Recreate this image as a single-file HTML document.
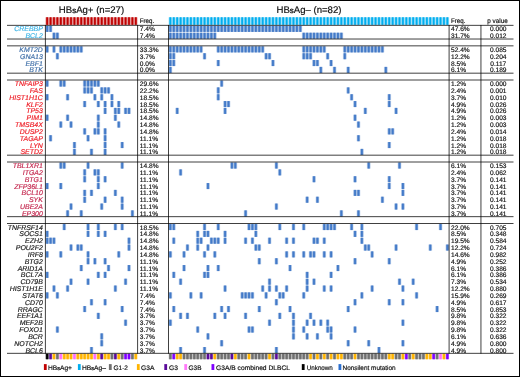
<!DOCTYPE html>
<html lang="en"><head><meta charset="utf-8"><title>Mutation landscape HBsAg+ vs HBsAg-</title>
<style>html,body{margin:0;padding:0;background:#fff}svg{display:block}</style></head>
<body>
<svg width="520" height="377" viewBox="0 0 520 377" font-family="'Liberation Sans', sans-serif" text-rendering="geometricPrecision">
<rect x="0" y="0" width="520" height="377" fill="#fff"/>
<defs><g id="c"><rect x="-0.195" y="0" width="3.8" height="6.0" opacity="0.22"/><rect x="0.305" y="0" width="2.8" height="6.0" opacity="0.45"/><rect x="0.805" y="0" width="1.8" height="6.0" opacity="0.72"/></g><g id="h"><rect x="-0.095" y="0" width="3.6" height="7.5" opacity="0.3"/><rect x="0.505" y="0" width="2.4" height="7.5" opacity="0.5"/><rect x="0.905" y="0" width="1.6" height="7.5" opacity="1"/></g><g id="k"><rect x="-0.045" y="0" width="3.5" height="5.4" opacity="0.3"/><rect x="0.355" y="0" width="2.7" height="5.4" opacity="0.6"/><rect x="0.705" y="0" width="2.0" height="5.4" opacity="1"/></g></defs>
<g fill="#c00000">
<use href="#h" x="45.45" y="17.3"/>
<use href="#h" x="48.86" y="17.3"/>
<use href="#h" x="52.27" y="17.3"/>
<use href="#h" x="55.68" y="17.3"/>
<use href="#h" x="59.09" y="17.3"/>
<use href="#h" x="62.50" y="17.3"/>
<use href="#h" x="65.91" y="17.3"/>
<use href="#h" x="69.32" y="17.3"/>
<use href="#h" x="72.73" y="17.3"/>
<use href="#h" x="76.14" y="17.3"/>
<use href="#h" x="79.55" y="17.3"/>
<use href="#h" x="82.96" y="17.3"/>
<use href="#h" x="86.37" y="17.3"/>
<use href="#h" x="89.78" y="17.3"/>
<use href="#h" x="93.19" y="17.3"/>
<use href="#h" x="96.60" y="17.3"/>
<use href="#h" x="100.01" y="17.3"/>
<use href="#h" x="103.42" y="17.3"/>
<use href="#h" x="106.83" y="17.3"/>
<use href="#h" x="110.24" y="17.3"/>
<use href="#h" x="113.65" y="17.3"/>
<use href="#h" x="117.06" y="17.3"/>
<use href="#h" x="120.47" y="17.3"/>
<use href="#h" x="123.88" y="17.3"/>
<use href="#h" x="127.29" y="17.3"/>
<use href="#h" x="130.70" y="17.3"/>
<use href="#h" x="134.11" y="17.3"/>
</g>
<g fill="#00aeef">
<use href="#h" x="168.65" y="17.3"/>
<use href="#h" x="172.07" y="17.3"/>
<use href="#h" x="175.49" y="17.3"/>
<use href="#h" x="178.91" y="17.3"/>
<use href="#h" x="182.33" y="17.3"/>
<use href="#h" x="185.75" y="17.3"/>
<use href="#h" x="189.17" y="17.3"/>
<use href="#h" x="192.59" y="17.3"/>
<use href="#h" x="196.01" y="17.3"/>
<use href="#h" x="199.43" y="17.3"/>
<use href="#h" x="202.85" y="17.3"/>
<use href="#h" x="206.27" y="17.3"/>
<use href="#h" x="209.69" y="17.3"/>
<use href="#h" x="213.11" y="17.3"/>
<use href="#h" x="216.53" y="17.3"/>
<use href="#h" x="219.95" y="17.3"/>
<use href="#h" x="223.37" y="17.3"/>
<use href="#h" x="226.79" y="17.3"/>
<use href="#h" x="230.21" y="17.3"/>
<use href="#h" x="233.63" y="17.3"/>
<use href="#h" x="237.05" y="17.3"/>
<use href="#h" x="240.47" y="17.3"/>
<use href="#h" x="243.89" y="17.3"/>
<use href="#h" x="247.31" y="17.3"/>
<use href="#h" x="250.73" y="17.3"/>
<use href="#h" x="254.15" y="17.3"/>
<use href="#h" x="257.57" y="17.3"/>
<use href="#h" x="260.99" y="17.3"/>
<use href="#h" x="264.41" y="17.3"/>
<use href="#h" x="267.83" y="17.3"/>
<use href="#h" x="271.25" y="17.3"/>
<use href="#h" x="274.67" y="17.3"/>
<use href="#h" x="278.09" y="17.3"/>
<use href="#h" x="281.51" y="17.3"/>
<use href="#h" x="284.93" y="17.3"/>
<use href="#h" x="288.35" y="17.3"/>
<use href="#h" x="291.77" y="17.3"/>
<use href="#h" x="295.19" y="17.3"/>
<use href="#h" x="298.61" y="17.3"/>
<use href="#h" x="302.03" y="17.3"/>
<use href="#h" x="305.45" y="17.3"/>
<use href="#h" x="308.87" y="17.3"/>
<use href="#h" x="312.29" y="17.3"/>
<use href="#h" x="315.71" y="17.3"/>
<use href="#h" x="319.13" y="17.3"/>
<use href="#h" x="322.55" y="17.3"/>
<use href="#h" x="325.97" y="17.3"/>
<use href="#h" x="329.39" y="17.3"/>
<use href="#h" x="332.81" y="17.3"/>
<use href="#h" x="336.23" y="17.3"/>
<use href="#h" x="339.65" y="17.3"/>
<use href="#h" x="343.07" y="17.3"/>
<use href="#h" x="346.49" y="17.3"/>
<use href="#h" x="349.91" y="17.3"/>
<use href="#h" x="353.33" y="17.3"/>
<use href="#h" x="356.75" y="17.3"/>
<use href="#h" x="360.17" y="17.3"/>
<use href="#h" x="363.59" y="17.3"/>
<use href="#h" x="367.01" y="17.3"/>
<use href="#h" x="370.43" y="17.3"/>
<use href="#h" x="373.85" y="17.3"/>
<use href="#h" x="377.27" y="17.3"/>
<use href="#h" x="380.69" y="17.3"/>
<use href="#h" x="384.11" y="17.3"/>
<use href="#h" x="387.53" y="17.3"/>
<use href="#h" x="390.95" y="17.3"/>
<use href="#h" x="394.37" y="17.3"/>
<use href="#h" x="397.79" y="17.3"/>
<use href="#h" x="401.21" y="17.3"/>
<use href="#h" x="404.63" y="17.3"/>
<use href="#h" x="408.05" y="17.3"/>
<use href="#h" x="411.47" y="17.3"/>
<use href="#h" x="414.89" y="17.3"/>
<use href="#h" x="418.31" y="17.3"/>
<use href="#h" x="421.73" y="17.3"/>
<use href="#h" x="425.15" y="17.3"/>
<use href="#h" x="428.57" y="17.3"/>
<use href="#h" x="431.99" y="17.3"/>
<use href="#h" x="435.41" y="17.3"/>
<use href="#h" x="438.83" y="17.3"/>
<use href="#h" x="442.25" y="17.3"/>
<use href="#h" x="445.67" y="17.3"/>
</g>
<g fill="#2a68c0">
<use href="#c" x="45.45" y="25.90"/>
<use href="#c" x="48.86" y="25.90"/>
<use href="#c" x="168.65" y="25.90"/>
<use href="#c" x="172.07" y="25.90"/>
<use href="#c" x="175.49" y="25.90"/>
<use href="#c" x="178.91" y="25.90"/>
<use href="#c" x="182.33" y="25.90"/>
<use href="#c" x="185.75" y="25.90"/>
<use href="#c" x="189.17" y="25.90"/>
<use href="#c" x="192.59" y="25.90"/>
<use href="#c" x="196.01" y="25.90"/>
<use href="#c" x="199.43" y="25.90"/>
<use href="#c" x="202.85" y="25.90"/>
<use href="#c" x="206.27" y="25.90"/>
<use href="#c" x="209.69" y="25.90"/>
<use href="#c" x="213.11" y="25.90"/>
<use href="#c" x="216.53" y="25.90"/>
<use href="#c" x="219.95" y="25.90"/>
<use href="#c" x="223.37" y="25.90"/>
<use href="#c" x="226.79" y="25.90"/>
<use href="#c" x="230.21" y="25.90"/>
<use href="#c" x="233.63" y="25.90"/>
<use href="#c" x="237.05" y="25.90"/>
<use href="#c" x="240.47" y="25.90"/>
<use href="#c" x="243.89" y="25.90"/>
<use href="#c" x="247.31" y="25.90"/>
<use href="#c" x="250.73" y="25.90"/>
<use href="#c" x="254.15" y="25.90"/>
<use href="#c" x="257.57" y="25.90"/>
<use href="#c" x="260.99" y="25.90"/>
<use href="#c" x="264.41" y="25.90"/>
<use href="#c" x="267.83" y="25.90"/>
<use href="#c" x="271.25" y="25.90"/>
<use href="#c" x="274.67" y="25.90"/>
<use href="#c" x="278.09" y="25.90"/>
<use href="#c" x="281.51" y="25.90"/>
<use href="#c" x="284.93" y="25.90"/>
<use href="#c" x="288.35" y="25.90"/>
<use href="#c" x="291.77" y="25.90"/>
<use href="#c" x="295.19" y="25.90"/>
<use href="#c" x="298.61" y="25.90"/>
<use href="#c" x="52.27" y="32.73"/>
<use href="#c" x="55.68" y="32.73"/>
<use href="#c" x="168.65" y="32.73"/>
<use href="#c" x="172.07" y="32.73"/>
<use href="#c" x="175.49" y="32.73"/>
<use href="#c" x="178.91" y="32.73"/>
<use href="#c" x="182.33" y="32.73"/>
<use href="#c" x="185.75" y="32.73"/>
<use href="#c" x="189.17" y="32.73"/>
<use href="#c" x="192.59" y="32.73"/>
<use href="#c" x="196.01" y="32.73"/>
<use href="#c" x="199.43" y="32.73"/>
<use href="#c" x="202.85" y="32.73"/>
<use href="#c" x="206.27" y="32.73"/>
<use href="#c" x="209.69" y="32.73"/>
<use href="#c" x="213.11" y="32.73"/>
<use href="#c" x="302.03" y="32.73"/>
<use href="#c" x="305.45" y="32.73"/>
<use href="#c" x="308.87" y="32.73"/>
<use href="#c" x="312.29" y="32.73"/>
<use href="#c" x="315.71" y="32.73"/>
<use href="#c" x="319.13" y="32.73"/>
<use href="#c" x="322.55" y="32.73"/>
<use href="#c" x="325.97" y="32.73"/>
<use href="#c" x="329.39" y="32.73"/>
<use href="#c" x="332.81" y="32.73"/>
<use href="#c" x="336.23" y="32.73"/>
<use href="#c" x="339.65" y="32.73"/>
<use href="#c" x="45.45" y="46.40"/>
<use href="#c" x="52.27" y="46.40"/>
<use href="#c" x="59.09" y="46.40"/>
<use href="#c" x="62.50" y="46.40"/>
<use href="#c" x="65.91" y="46.40"/>
<use href="#c" x="69.32" y="46.40"/>
<use href="#c" x="72.73" y="46.40"/>
<use href="#c" x="76.14" y="46.40"/>
<use href="#c" x="79.55" y="46.40"/>
<use href="#c" x="168.65" y="46.40"/>
<use href="#c" x="172.07" y="46.40"/>
<use href="#c" x="175.49" y="46.40"/>
<use href="#c" x="178.91" y="46.40"/>
<use href="#c" x="182.33" y="46.40"/>
<use href="#c" x="185.75" y="46.40"/>
<use href="#c" x="189.17" y="46.40"/>
<use href="#c" x="192.59" y="46.40"/>
<use href="#c" x="196.01" y="46.40"/>
<use href="#c" x="199.43" y="46.40"/>
<use href="#c" x="216.53" y="46.40"/>
<use href="#c" x="219.95" y="46.40"/>
<use href="#c" x="223.37" y="46.40"/>
<use href="#c" x="226.79" y="46.40"/>
<use href="#c" x="230.21" y="46.40"/>
<use href="#c" x="233.63" y="46.40"/>
<use href="#c" x="237.05" y="46.40"/>
<use href="#c" x="240.47" y="46.40"/>
<use href="#c" x="243.89" y="46.40"/>
<use href="#c" x="247.31" y="46.40"/>
<use href="#c" x="250.73" y="46.40"/>
<use href="#c" x="254.15" y="46.40"/>
<use href="#c" x="257.57" y="46.40"/>
<use href="#c" x="260.99" y="46.40"/>
<use href="#c" x="302.03" y="46.40"/>
<use href="#c" x="305.45" y="46.40"/>
<use href="#c" x="308.87" y="46.40"/>
<use href="#c" x="312.29" y="46.40"/>
<use href="#c" x="315.71" y="46.40"/>
<use href="#c" x="319.13" y="46.40"/>
<use href="#c" x="322.55" y="46.40"/>
<use href="#c" x="343.07" y="46.40"/>
<use href="#c" x="346.49" y="46.40"/>
<use href="#c" x="349.91" y="46.40"/>
<use href="#c" x="353.33" y="46.40"/>
<use href="#c" x="356.75" y="46.40"/>
<use href="#c" x="360.17" y="46.40"/>
<use href="#c" x="363.59" y="46.40"/>
<use href="#c" x="367.01" y="46.40"/>
<use href="#c" x="370.43" y="46.40"/>
<use href="#c" x="373.85" y="46.40"/>
<use href="#c" x="377.27" y="46.40"/>
<use href="#c" x="380.69" y="46.40"/>
<use href="#c" x="55.68" y="53.23"/>
<use href="#c" x="168.65" y="53.23"/>
<use href="#c" x="172.07" y="53.23"/>
<use href="#c" x="202.85" y="53.23"/>
<use href="#c" x="264.41" y="53.23"/>
<use href="#c" x="267.83" y="53.23"/>
<use href="#c" x="302.03" y="53.23"/>
<use href="#c" x="305.45" y="53.23"/>
<use href="#c" x="308.87" y="53.23"/>
<use href="#c" x="325.97" y="53.23"/>
<use href="#c" x="343.07" y="53.23"/>
<use href="#c" x="168.65" y="60.06"/>
<use href="#c" x="172.07" y="60.06"/>
<use href="#c" x="216.53" y="60.06"/>
<use href="#c" x="271.25" y="60.06"/>
<use href="#c" x="312.29" y="60.06"/>
<use href="#c" x="315.71" y="60.06"/>
<use href="#c" x="329.39" y="60.06"/>
<use href="#c" x="168.65" y="66.90"/>
<use href="#c" x="319.13" y="66.90"/>
<use href="#c" x="332.81" y="66.90"/>
<use href="#c" x="346.49" y="66.90"/>
<use href="#c" x="384.11" y="66.90"/>
<use href="#c" x="45.45" y="80.56"/>
<use href="#c" x="59.09" y="80.56"/>
<use href="#c" x="62.50" y="80.56"/>
<use href="#c" x="82.96" y="80.56"/>
<use href="#c" x="86.37" y="80.56"/>
<use href="#c" x="89.78" y="80.56"/>
<use href="#c" x="93.19" y="80.56"/>
<use href="#c" x="96.60" y="80.56"/>
<use href="#c" x="219.95" y="80.56"/>
<use href="#c" x="82.96" y="87.40"/>
<use href="#c" x="86.37" y="87.40"/>
<use href="#c" x="89.78" y="87.40"/>
<use href="#c" x="100.01" y="87.40"/>
<use href="#c" x="103.42" y="87.40"/>
<use href="#c" x="106.83" y="87.40"/>
<use href="#c" x="216.53" y="87.40"/>
<use href="#c" x="346.49" y="87.40"/>
<use href="#c" x="45.45" y="94.23"/>
<use href="#c" x="65.91" y="94.23"/>
<use href="#c" x="93.19" y="94.23"/>
<use href="#c" x="100.01" y="94.23"/>
<use href="#c" x="110.24" y="94.23"/>
<use href="#c" x="216.53" y="94.23"/>
<use href="#c" x="349.91" y="94.23"/>
<use href="#c" x="387.53" y="94.23"/>
<use href="#c" x="82.96" y="101.06"/>
<use href="#c" x="96.60" y="101.06"/>
<use href="#c" x="103.42" y="101.06"/>
<use href="#c" x="110.24" y="101.06"/>
<use href="#c" x="117.06" y="101.06"/>
<use href="#c" x="223.37" y="101.06"/>
<use href="#c" x="226.79" y="101.06"/>
<use href="#c" x="353.33" y="101.06"/>
<use href="#c" x="387.53" y="101.06"/>
<use href="#c" x="103.42" y="107.90"/>
<use href="#c" x="113.65" y="107.90"/>
<use href="#c" x="117.06" y="107.90"/>
<use href="#c" x="123.88" y="107.90"/>
<use href="#c" x="127.29" y="107.90"/>
<use href="#c" x="175.49" y="107.90"/>
<use href="#c" x="223.37" y="107.90"/>
<use href="#c" x="363.59" y="107.90"/>
<use href="#c" x="394.37" y="107.90"/>
<use href="#c" x="45.45" y="114.73"/>
<use href="#c" x="65.91" y="114.73"/>
<use href="#c" x="96.60" y="114.73"/>
<use href="#c" x="113.65" y="114.73"/>
<use href="#c" x="353.33" y="114.73"/>
<use href="#c" x="59.09" y="121.56"/>
<use href="#c" x="69.32" y="121.56"/>
<use href="#c" x="96.60" y="121.56"/>
<use href="#c" x="117.06" y="121.56"/>
<use href="#c" x="356.75" y="121.56"/>
<use href="#c" x="82.96" y="128.40"/>
<use href="#c" x="93.19" y="128.40"/>
<use href="#c" x="96.60" y="128.40"/>
<use href="#c" x="103.42" y="128.40"/>
<use href="#c" x="387.53" y="128.40"/>
<use href="#c" x="390.95" y="128.40"/>
<use href="#c" x="48.86" y="135.23"/>
<use href="#c" x="86.37" y="135.23"/>
<use href="#c" x="103.42" y="135.23"/>
<use href="#c" x="356.75" y="135.23"/>
<use href="#c" x="72.73" y="142.06"/>
<use href="#c" x="103.42" y="142.06"/>
<use href="#c" x="120.47" y="142.06"/>
<use href="#c" x="387.53" y="142.06"/>
<use href="#c" x="72.73" y="148.89"/>
<use href="#c" x="89.78" y="148.89"/>
<use href="#c" x="103.42" y="148.89"/>
<use href="#c" x="360.17" y="148.89"/>
<use href="#c" x="59.09" y="162.56"/>
<use href="#c" x="62.50" y="162.56"/>
<use href="#c" x="86.37" y="162.56"/>
<use href="#c" x="120.47" y="162.56"/>
<use href="#c" x="230.21" y="162.56"/>
<use href="#c" x="233.63" y="162.56"/>
<use href="#c" x="274.67" y="162.56"/>
<use href="#c" x="367.01" y="162.56"/>
<use href="#c" x="397.79" y="162.56"/>
<use href="#c" x="82.96" y="169.39"/>
<use href="#c" x="93.19" y="169.39"/>
<use href="#c" x="96.60" y="169.39"/>
<use href="#c" x="178.91" y="169.39"/>
<use href="#c" x="278.09" y="169.39"/>
<use href="#c" x="82.96" y="176.23"/>
<use href="#c" x="96.60" y="176.23"/>
<use href="#c" x="103.42" y="176.23"/>
<use href="#c" x="312.29" y="176.23"/>
<use href="#c" x="353.33" y="176.23"/>
<use href="#c" x="387.53" y="176.23"/>
<use href="#c" x="45.45" y="183.06"/>
<use href="#c" x="59.09" y="183.06"/>
<use href="#c" x="96.60" y="183.06"/>
<use href="#c" x="206.27" y="183.06"/>
<use href="#c" x="387.53" y="183.06"/>
<use href="#c" x="401.21" y="183.06"/>
<use href="#c" x="82.96" y="189.89"/>
<use href="#c" x="89.78" y="189.89"/>
<use href="#c" x="113.65" y="189.89"/>
<use href="#c" x="353.33" y="189.89"/>
<use href="#c" x="356.75" y="189.89"/>
<use href="#c" x="401.21" y="189.89"/>
<use href="#c" x="82.96" y="196.73"/>
<use href="#c" x="103.42" y="196.73"/>
<use href="#c" x="120.47" y="196.73"/>
<use href="#c" x="305.45" y="196.73"/>
<use href="#c" x="315.71" y="196.73"/>
<use href="#c" x="380.69" y="196.73"/>
<use href="#c" x="69.32" y="203.56"/>
<use href="#c" x="100.01" y="203.56"/>
<use href="#c" x="120.47" y="203.56"/>
<use href="#c" x="274.67" y="203.56"/>
<use href="#c" x="394.37" y="203.56"/>
<use href="#c" x="401.21" y="203.56"/>
<use href="#c" x="65.91" y="210.39"/>
<use href="#c" x="79.55" y="210.39"/>
<use href="#c" x="130.70" y="210.39"/>
<use href="#c" x="243.89" y="210.39"/>
<use href="#c" x="339.65" y="210.39"/>
<use href="#c" x="356.75" y="210.39"/>
<use href="#c" x="62.50" y="224.06"/>
<use href="#c" x="86.37" y="224.06"/>
<use href="#c" x="96.60" y="224.06"/>
<use href="#c" x="113.65" y="224.06"/>
<use href="#c" x="120.47" y="224.06"/>
<use href="#c" x="168.65" y="224.06"/>
<use href="#c" x="172.07" y="224.06"/>
<use href="#c" x="202.85" y="224.06"/>
<use href="#c" x="216.53" y="224.06"/>
<use href="#c" x="247.31" y="224.06"/>
<use href="#c" x="250.73" y="224.06"/>
<use href="#c" x="254.15" y="224.06"/>
<use href="#c" x="278.09" y="224.06"/>
<use href="#c" x="291.77" y="224.06"/>
<use href="#c" x="302.03" y="224.06"/>
<use href="#c" x="322.55" y="224.06"/>
<use href="#c" x="325.97" y="224.06"/>
<use href="#c" x="329.39" y="224.06"/>
<use href="#c" x="332.81" y="224.06"/>
<use href="#c" x="349.91" y="224.06"/>
<use href="#c" x="360.17" y="224.06"/>
<use href="#c" x="414.89" y="224.06"/>
<use href="#c" x="438.83" y="224.06"/>
<use href="#c" x="45.45" y="230.89"/>
<use href="#c" x="86.37" y="230.89"/>
<use href="#c" x="96.60" y="230.89"/>
<use href="#c" x="103.42" y="230.89"/>
<use href="#c" x="196.01" y="230.89"/>
<use href="#c" x="202.85" y="230.89"/>
<use href="#c" x="206.27" y="230.89"/>
<use href="#c" x="223.37" y="230.89"/>
<use href="#c" x="254.15" y="230.89"/>
<use href="#c" x="353.33" y="230.89"/>
<use href="#c" x="360.17" y="230.89"/>
<use href="#c" x="45.45" y="237.72"/>
<use href="#c" x="48.86" y="237.72"/>
<use href="#c" x="52.27" y="237.72"/>
<use href="#c" x="127.29" y="237.72"/>
<use href="#c" x="172.07" y="237.72"/>
<use href="#c" x="196.01" y="237.72"/>
<use href="#c" x="199.43" y="237.72"/>
<use href="#c" x="209.69" y="237.72"/>
<use href="#c" x="213.11" y="237.72"/>
<use href="#c" x="216.53" y="237.72"/>
<use href="#c" x="223.37" y="237.72"/>
<use href="#c" x="243.89" y="237.72"/>
<use href="#c" x="250.73" y="237.72"/>
<use href="#c" x="267.83" y="237.72"/>
<use href="#c" x="284.93" y="237.72"/>
<use href="#c" x="291.77" y="237.72"/>
<use href="#c" x="312.29" y="237.72"/>
<use href="#c" x="315.71" y="237.72"/>
<use href="#c" x="322.55" y="237.72"/>
<use href="#c" x="360.17" y="237.72"/>
<use href="#c" x="69.32" y="244.56"/>
<use href="#c" x="76.14" y="244.56"/>
<use href="#c" x="79.55" y="244.56"/>
<use href="#c" x="127.29" y="244.56"/>
<use href="#c" x="185.75" y="244.56"/>
<use href="#c" x="196.01" y="244.56"/>
<use href="#c" x="206.27" y="244.56"/>
<use href="#c" x="254.15" y="244.56"/>
<use href="#c" x="257.57" y="244.56"/>
<use href="#c" x="363.59" y="244.56"/>
<use href="#c" x="367.01" y="244.56"/>
<use href="#c" x="394.37" y="244.56"/>
<use href="#c" x="428.57" y="244.56"/>
<use href="#c" x="445.67" y="244.56"/>
<use href="#c" x="45.45" y="251.39"/>
<use href="#c" x="59.09" y="251.39"/>
<use href="#c" x="86.37" y="251.39"/>
<use href="#c" x="117.06" y="251.39"/>
<use href="#c" x="168.65" y="251.39"/>
<use href="#c" x="182.33" y="251.39"/>
<use href="#c" x="202.85" y="251.39"/>
<use href="#c" x="213.11" y="251.39"/>
<use href="#c" x="284.93" y="251.39"/>
<use href="#c" x="291.77" y="251.39"/>
<use href="#c" x="302.03" y="251.39"/>
<use href="#c" x="308.87" y="251.39"/>
<use href="#c" x="312.29" y="251.39"/>
<use href="#c" x="322.55" y="251.39"/>
<use href="#c" x="329.39" y="251.39"/>
<use href="#c" x="370.43" y="251.39"/>
<use href="#c" x="86.37" y="258.22"/>
<use href="#c" x="93.19" y="258.22"/>
<use href="#c" x="103.42" y="258.22"/>
<use href="#c" x="257.57" y="258.22"/>
<use href="#c" x="274.67" y="258.22"/>
<use href="#c" x="353.33" y="258.22"/>
<use href="#c" x="387.53" y="258.22"/>
<use href="#c" x="79.55" y="265.06"/>
<use href="#c" x="106.83" y="265.06"/>
<use href="#c" x="127.29" y="265.06"/>
<use href="#c" x="182.33" y="265.06"/>
<use href="#c" x="206.27" y="265.06"/>
<use href="#c" x="216.53" y="265.06"/>
<use href="#c" x="288.35" y="265.06"/>
<use href="#c" x="336.23" y="265.06"/>
<use href="#c" x="45.45" y="271.89"/>
<use href="#c" x="96.60" y="271.89"/>
<use href="#c" x="103.42" y="271.89"/>
<use href="#c" x="172.07" y="271.89"/>
<use href="#c" x="202.85" y="271.89"/>
<use href="#c" x="206.27" y="271.89"/>
<use href="#c" x="305.45" y="271.89"/>
<use href="#c" x="329.39" y="271.89"/>
<use href="#c" x="69.32" y="278.72"/>
<use href="#c" x="86.37" y="278.72"/>
<use href="#c" x="123.88" y="278.72"/>
<use href="#c" x="178.91" y="278.72"/>
<use href="#c" x="267.83" y="278.72"/>
<use href="#c" x="305.45" y="278.72"/>
<use href="#c" x="312.29" y="278.72"/>
<use href="#c" x="397.79" y="278.72"/>
<use href="#c" x="411.47" y="278.72"/>
<use href="#c" x="52.27" y="285.55"/>
<use href="#c" x="65.91" y="285.55"/>
<use href="#c" x="113.65" y="285.55"/>
<use href="#c" x="223.37" y="285.55"/>
<use href="#c" x="260.99" y="285.55"/>
<use href="#c" x="267.83" y="285.55"/>
<use href="#c" x="274.67" y="285.55"/>
<use href="#c" x="284.93" y="285.55"/>
<use href="#c" x="305.45" y="285.55"/>
<use href="#c" x="322.55" y="285.55"/>
<use href="#c" x="329.39" y="285.55"/>
<use href="#c" x="370.43" y="285.55"/>
<use href="#c" x="401.21" y="285.55"/>
<use href="#c" x="45.45" y="292.39"/>
<use href="#c" x="55.68" y="292.39"/>
<use href="#c" x="168.65" y="292.39"/>
<use href="#c" x="189.17" y="292.39"/>
<use href="#c" x="199.43" y="292.39"/>
<use href="#c" x="240.47" y="292.39"/>
<use href="#c" x="243.89" y="292.39"/>
<use href="#c" x="247.31" y="292.39"/>
<use href="#c" x="250.73" y="292.39"/>
<use href="#c" x="264.41" y="292.39"/>
<use href="#c" x="278.09" y="292.39"/>
<use href="#c" x="281.51" y="292.39"/>
<use href="#c" x="302.03" y="292.39"/>
<use href="#c" x="360.17" y="292.39"/>
<use href="#c" x="414.89" y="292.39"/>
<use href="#c" x="89.78" y="299.22"/>
<use href="#c" x="103.42" y="299.22"/>
<use href="#c" x="274.67" y="299.22"/>
<use href="#c" x="353.33" y="299.22"/>
<use href="#c" x="387.53" y="299.22"/>
<use href="#c" x="401.21" y="299.22"/>
<use href="#c" x="82.96" y="306.05"/>
<use href="#c" x="120.47" y="306.05"/>
<use href="#c" x="172.07" y="306.05"/>
<use href="#c" x="219.95" y="306.05"/>
<use href="#c" x="226.79" y="306.05"/>
<use href="#c" x="257.57" y="306.05"/>
<use href="#c" x="288.35" y="306.05"/>
<use href="#c" x="346.49" y="306.05"/>
<use href="#c" x="435.41" y="306.05"/>
<use href="#c" x="96.60" y="312.89"/>
<use href="#c" x="178.91" y="312.89"/>
<use href="#c" x="185.75" y="312.89"/>
<use href="#c" x="213.11" y="312.89"/>
<use href="#c" x="223.37" y="312.89"/>
<use href="#c" x="243.89" y="312.89"/>
<use href="#c" x="278.09" y="312.89"/>
<use href="#c" x="291.77" y="312.89"/>
<use href="#c" x="308.87" y="312.89"/>
<use href="#c" x="123.88" y="319.72"/>
<use href="#c" x="168.65" y="319.72"/>
<use href="#c" x="267.83" y="319.72"/>
<use href="#c" x="291.77" y="319.72"/>
<use href="#c" x="305.45" y="319.72"/>
<use href="#c" x="312.29" y="319.72"/>
<use href="#c" x="319.13" y="319.72"/>
<use href="#c" x="325.97" y="319.72"/>
<use href="#c" x="401.21" y="319.72"/>
<use href="#c" x="55.68" y="326.55"/>
<use href="#c" x="196.01" y="326.55"/>
<use href="#c" x="247.31" y="326.55"/>
<use href="#c" x="250.73" y="326.55"/>
<use href="#c" x="291.77" y="326.55"/>
<use href="#c" x="302.03" y="326.55"/>
<use href="#c" x="325.97" y="326.55"/>
<use href="#c" x="329.39" y="326.55"/>
<use href="#c" x="353.33" y="326.55"/>
<use href="#c" x="100.01" y="333.39"/>
<use href="#c" x="206.27" y="333.39"/>
<use href="#c" x="291.77" y="333.39"/>
<use href="#c" x="305.45" y="333.39"/>
<use href="#c" x="315.71" y="333.39"/>
<use href="#c" x="329.39" y="333.39"/>
<use href="#c" x="100.01" y="340.22"/>
<use href="#c" x="219.95" y="340.22"/>
<use href="#c" x="346.49" y="340.22"/>
<use href="#c" x="367.01" y="340.22"/>
<use href="#c" x="401.21" y="340.22"/>
<use href="#c" x="89.78" y="347.05"/>
<use href="#c" x="178.91" y="347.05"/>
<use href="#c" x="202.85" y="347.05"/>
<use href="#c" x="274.67" y="347.05"/>
<use href="#c" x="377.27" y="347.05"/>
</g>
<use href="#k" x="45.45" y="353.8" fill="#000"/>
<use href="#k" x="48.86" y="353.8" fill="#5a0a9a"/>
<use href="#k" x="52.27" y="353.8" fill="#ffb400"/>
<use href="#k" x="55.68" y="353.8" fill="#707070"/>
<use href="#k" x="59.09" y="353.8" fill="#ff6cfa"/>
<use href="#k" x="62.50" y="353.8" fill="#ffb400"/>
<use href="#k" x="65.91" y="353.8" fill="#ffb400"/>
<use href="#k" x="69.32" y="353.8" fill="#ffb400"/>
<use href="#k" x="72.73" y="353.8" fill="#ff6cfa"/>
<use href="#k" x="76.14" y="353.8" fill="#ffb400"/>
<use href="#k" x="79.55" y="353.8" fill="#ffb400"/>
<use href="#k" x="82.96" y="353.8" fill="#ffb400"/>
<use href="#k" x="86.37" y="353.8" fill="#ffb400"/>
<use href="#k" x="89.78" y="353.8" fill="#ffb400"/>
<use href="#k" x="93.19" y="353.8" fill="#ff6cfa"/>
<use href="#k" x="96.60" y="353.8" fill="#ffb400"/>
<use href="#k" x="100.01" y="353.8" fill="#5a0a9a"/>
<use href="#k" x="103.42" y="353.8" fill="#ffb400"/>
<use href="#k" x="106.83" y="353.8" fill="#ffb400"/>
<use href="#k" x="110.24" y="353.8" fill="#707070"/>
<use href="#k" x="113.65" y="353.8" fill="#5a0a9a"/>
<use href="#k" x="117.06" y="353.8" fill="#ffb400"/>
<use href="#k" x="120.47" y="353.8" fill="#707070"/>
<use href="#k" x="123.88" y="353.8" fill="#8000ff"/>
<use href="#k" x="127.29" y="353.8" fill="#8000ff"/>
<use href="#k" x="130.70" y="353.8" fill="#707070"/>
<use href="#k" x="134.11" y="353.8" fill="#ffb400"/>
<use href="#k" x="168.65" y="353.8" fill="#707070"/>
<use href="#k" x="172.07" y="353.8" fill="#8000ff"/>
<use href="#k" x="175.49" y="353.8" fill="#ffb400"/>
<use href="#k" x="178.91" y="353.8" fill="#ffb400"/>
<use href="#k" x="182.33" y="353.8" fill="#707070"/>
<use href="#k" x="185.75" y="353.8" fill="#707070"/>
<use href="#k" x="189.17" y="353.8" fill="#707070"/>
<use href="#k" x="192.59" y="353.8" fill="#707070"/>
<use href="#k" x="196.01" y="353.8" fill="#707070"/>
<use href="#k" x="199.43" y="353.8" fill="#707070"/>
<use href="#k" x="202.85" y="353.8" fill="#707070"/>
<use href="#k" x="206.27" y="353.8" fill="#5a0a9a"/>
<use href="#k" x="209.69" y="353.8" fill="#5a0a9a"/>
<use href="#k" x="213.11" y="353.8" fill="#ffb400"/>
<use href="#k" x="216.53" y="353.8" fill="#707070"/>
<use href="#k" x="219.95" y="353.8" fill="#707070"/>
<use href="#k" x="223.37" y="353.8" fill="#707070"/>
<use href="#k" x="226.79" y="353.8" fill="#707070"/>
<use href="#k" x="230.21" y="353.8" fill="#5a0a9a"/>
<use href="#k" x="233.63" y="353.8" fill="#ffb400"/>
<use href="#k" x="237.05" y="353.8" fill="#707070"/>
<use href="#k" x="240.47" y="353.8" fill="#707070"/>
<use href="#k" x="243.89" y="353.8" fill="#707070"/>
<use href="#k" x="247.31" y="353.8" fill="#ffb400"/>
<use href="#k" x="250.73" y="353.8" fill="#707070"/>
<use href="#k" x="254.15" y="353.8" fill="#707070"/>
<use href="#k" x="257.57" y="353.8" fill="#707070"/>
<use href="#k" x="260.99" y="353.8" fill="#707070"/>
<use href="#k" x="264.41" y="353.8" fill="#707070"/>
<use href="#k" x="267.83" y="353.8" fill="#ffb400"/>
<use href="#k" x="271.25" y="353.8" fill="#707070"/>
<use href="#k" x="274.67" y="353.8" fill="#5a0a9a"/>
<use href="#k" x="278.09" y="353.8" fill="#707070"/>
<use href="#k" x="281.51" y="353.8" fill="#707070"/>
<use href="#k" x="284.93" y="353.8" fill="#707070"/>
<use href="#k" x="288.35" y="353.8" fill="#707070"/>
<use href="#k" x="291.77" y="353.8" fill="#707070"/>
<use href="#k" x="295.19" y="353.8" fill="#707070"/>
<use href="#k" x="298.61" y="353.8" fill="#707070"/>
<use href="#k" x="302.03" y="353.8" fill="#707070"/>
<use href="#k" x="305.45" y="353.8" fill="#707070"/>
<use href="#k" x="308.87" y="353.8" fill="#ffb400"/>
<use href="#k" x="312.29" y="353.8" fill="#707070"/>
<use href="#k" x="315.71" y="353.8" fill="#ffb400"/>
<use href="#k" x="319.13" y="353.8" fill="#707070"/>
<use href="#k" x="322.55" y="353.8" fill="#ffb400"/>
<use href="#k" x="325.97" y="353.8" fill="#707070"/>
<use href="#k" x="329.39" y="353.8" fill="#ffb400"/>
<use href="#k" x="332.81" y="353.8" fill="#707070"/>
<use href="#k" x="336.23" y="353.8" fill="#ffb400"/>
<use href="#k" x="339.65" y="353.8" fill="#ffb400"/>
<use href="#k" x="343.07" y="353.8" fill="#707070"/>
<use href="#k" x="346.49" y="353.8" fill="#707070"/>
<use href="#k" x="349.91" y="353.8" fill="#707070"/>
<use href="#k" x="353.33" y="353.8" fill="#ffb400"/>
<use href="#k" x="356.75" y="353.8" fill="#707070"/>
<use href="#k" x="360.17" y="353.8" fill="#707070"/>
<use href="#k" x="363.59" y="353.8" fill="#707070"/>
<use href="#k" x="367.01" y="353.8" fill="#707070"/>
<use href="#k" x="370.43" y="353.8" fill="#707070"/>
<use href="#k" x="373.85" y="353.8" fill="#707070"/>
<use href="#k" x="377.27" y="353.8" fill="#707070"/>
<use href="#k" x="380.69" y="353.8" fill="#707070"/>
<use href="#k" x="384.11" y="353.8" fill="#707070"/>
<use href="#k" x="387.53" y="353.8" fill="#ffb400"/>
<use href="#k" x="390.95" y="353.8" fill="#ffb400"/>
<use href="#k" x="394.37" y="353.8" fill="#707070"/>
<use href="#k" x="397.79" y="353.8" fill="#707070"/>
<use href="#k" x="401.21" y="353.8" fill="#ffb400"/>
<use href="#k" x="404.63" y="353.8" fill="#8000ff"/>
<use href="#k" x="408.05" y="353.8" fill="#707070"/>
<use href="#k" x="411.47" y="353.8" fill="#ffb400"/>
<use href="#k" x="414.89" y="353.8" fill="#707070"/>
<use href="#k" x="418.31" y="353.8" fill="#707070"/>
<use href="#k" x="421.73" y="353.8" fill="#707070"/>
<use href="#k" x="425.15" y="353.8" fill="#ffb400"/>
<use href="#k" x="428.57" y="353.8" fill="#ffb400"/>
<use href="#k" x="431.99" y="353.8" fill="#8000ff"/>
<use href="#k" x="435.41" y="353.8" fill="#707070"/>
<use href="#k" x="438.83" y="353.8" fill="#ff6cfa"/>
<use href="#k" x="442.25" y="353.8" fill="#ffb400"/>
<use href="#k" x="445.67" y="353.8" fill="#8000ff"/>
<g stroke="#000" stroke-width="0.75" fill="none">
<line x1="7" y1="25.35" x2="513.5" y2="25.35"/>
<line x1="7" y1="39.02" x2="513.5" y2="39.02"/>
<line x1="7" y1="45.85" x2="513.5" y2="45.85"/>
<line x1="7" y1="73.18" x2="513.5" y2="73.18"/>
<line x1="7" y1="80.01" x2="513.5" y2="80.01"/>
<line x1="7" y1="155.18" x2="513.5" y2="155.18"/>
<line x1="7" y1="162.01" x2="513.5" y2="162.01"/>
<line x1="7" y1="216.67" x2="513.5" y2="216.67"/>
<line x1="7" y1="223.51" x2="513.5" y2="223.51"/>
<line x1="7" y1="353.33" x2="513.5" y2="353.33"/>
<line x1="45.4" y1="24.98" x2="45.4" y2="353.71"/>
<line x1="137.6" y1="24.98" x2="137.6" y2="353.71"/>
<line x1="168.5" y1="24.98" x2="168.5" y2="353.71"/>
<line x1="449.1" y1="24.98" x2="449.1" y2="353.71"/>
<line x1="480.95" y1="24.98" x2="480.95" y2="353.71"/>
</g>
<g font-size="6.6" fill="#111" stroke="#111" stroke-width="0.18">
<text x="42.8" y="31.45" text-anchor="end" font-style="italic" font-size="6.95" fill="#3cb4e6" stroke="#3cb4e6">CREBBP</text>
<text x="139.8" y="31.45">7.4%</text>
<text x="451.0" y="31.45">47.6%</text>
<text x="498.3" y="31.45" text-anchor="middle">0.000</text>
<text x="42.8" y="38.28" text-anchor="end" font-style="italic" font-size="6.95" fill="#3cb4e6" stroke="#3cb4e6">BCL2</text>
<text x="139.8" y="38.28">7.4%</text>
<text x="451.0" y="38.28">31.7%</text>
<text x="498.3" y="38.28" text-anchor="middle">0.012</text>
<text x="42.8" y="51.95" text-anchor="end" font-style="italic" font-size="6.95" fill="#3f6fa8" stroke="#3f6fa8">KMT2D</text>
<text x="139.8" y="51.95">33.3%</text>
<text x="451.0" y="51.95">52.4%</text>
<text x="498.3" y="51.95" text-anchor="middle">0.085</text>
<text x="42.8" y="58.78" text-anchor="end" font-style="italic" font-size="6.95" fill="#3f6fa8" stroke="#3f6fa8">GNA13</text>
<text x="139.8" y="58.78">3.7%</text>
<text x="451.0" y="58.78">12.2%</text>
<text x="498.3" y="58.78" text-anchor="middle">0.204</text>
<text x="42.8" y="65.61" text-anchor="end" font-style="italic" font-size="6.95" fill="#3f6fa8" stroke="#3f6fa8">EBF1</text>
<text x="139.8" y="65.61">0.0%</text>
<text x="451.0" y="65.61">8.5%</text>
<text x="498.3" y="65.61" text-anchor="middle">0.117</text>
<text x="42.8" y="72.45" text-anchor="end" font-style="italic" font-size="6.95" fill="#3f6fa8" stroke="#3f6fa8">BTK</text>
<text x="139.8" y="72.45">0.0%</text>
<text x="451.0" y="72.45">6.1%</text>
<text x="498.3" y="72.45" text-anchor="middle">0.189</text>
<text x="42.8" y="86.11" text-anchor="end" font-style="italic" font-size="6.95" fill="#ee1c25" stroke="#ee1c25">TNFAIP3</text>
<text x="139.8" y="86.11">29.6%</text>
<text x="451.0" y="86.11">1.2%</text>
<text x="498.3" y="86.11" text-anchor="middle">0.000</text>
<text x="42.8" y="92.95" text-anchor="end" font-style="italic" font-size="6.95" fill="#ee1c25" stroke="#ee1c25">FAS</text>
<text x="139.8" y="92.95">22.2%</text>
<text x="451.0" y="92.95">2.4%</text>
<text x="498.3" y="92.95" text-anchor="middle">0.001</text>
<text x="42.8" y="99.78" text-anchor="end" font-style="italic" font-size="6.95" fill="#ee1c25" stroke="#ee1c25">HIST1H1C</text>
<text x="139.8" y="99.78">18.5%</text>
<text x="451.0" y="99.78">3.7%</text>
<text x="498.3" y="99.78" text-anchor="middle">0.010</text>
<text x="42.8" y="106.61" text-anchor="end" font-style="italic" font-size="6.95" fill="#ee1c25" stroke="#ee1c25">KLF2</text>
<text x="139.8" y="106.61">18.5%</text>
<text x="451.0" y="106.61">4.9%</text>
<text x="498.3" y="106.61" text-anchor="middle">0.026</text>
<text x="42.8" y="113.45" text-anchor="end" font-style="italic" font-size="6.95" fill="#ee1c25" stroke="#ee1c25">TP53</text>
<text x="139.8" y="113.45">18.5%</text>
<text x="451.0" y="113.45">4.9%</text>
<text x="498.3" y="113.45" text-anchor="middle">0.026</text>
<text x="42.8" y="120.28" text-anchor="end" font-style="italic" font-size="6.95" fill="#ee1c25" stroke="#ee1c25">PIM1</text>
<text x="139.8" y="120.28">14.8%</text>
<text x="451.0" y="120.28">1.2%</text>
<text x="498.3" y="120.28" text-anchor="middle">0.003</text>
<text x="42.8" y="127.11" text-anchor="end" font-style="italic" font-size="6.95" fill="#ee1c25" stroke="#ee1c25">TMSB4X</text>
<text x="139.8" y="127.11">14.8%</text>
<text x="451.0" y="127.11">1.2%</text>
<text x="498.3" y="127.11" text-anchor="middle">0.003</text>
<text x="42.8" y="133.94" text-anchor="end" font-style="italic" font-size="6.95" fill="#ee1c25" stroke="#ee1c25">DUSP2</text>
<text x="139.8" y="133.94">14.8%</text>
<text x="451.0" y="133.94">2.4%</text>
<text x="498.3" y="133.94" text-anchor="middle">0.014</text>
<text x="42.8" y="140.78" text-anchor="end" font-style="italic" font-size="6.95" fill="#ee1c25" stroke="#ee1c25">TAGAP</text>
<text x="139.8" y="140.78">11.1%</text>
<text x="451.0" y="140.78">1.2%</text>
<text x="498.3" y="140.78" text-anchor="middle">0.018</text>
<text x="42.8" y="147.61" text-anchor="end" font-style="italic" font-size="6.95" fill="#ee1c25" stroke="#ee1c25">LYN</text>
<text x="139.8" y="147.61">11.1%</text>
<text x="451.0" y="147.61">1.2%</text>
<text x="498.3" y="147.61" text-anchor="middle">0.018</text>
<text x="42.8" y="154.44" text-anchor="end" font-style="italic" font-size="6.95" fill="#ee1c25" stroke="#ee1c25">SETD2</text>
<text x="139.8" y="154.44">11.1%</text>
<text x="451.0" y="154.44">1.2%</text>
<text x="498.3" y="154.44" text-anchor="middle">0.018</text>
<text x="42.8" y="168.11" text-anchor="end" font-style="italic" font-size="6.95" fill="#c4274e" stroke="#c4274e">TBL1XR1</text>
<text x="139.8" y="168.11">14.8%</text>
<text x="451.0" y="168.11">6.1%</text>
<text x="498.3" y="168.11" text-anchor="middle">0.153</text>
<text x="42.8" y="174.94" text-anchor="end" font-style="italic" font-size="6.95" fill="#c4274e" stroke="#c4274e">ITGA2</text>
<text x="139.8" y="174.94">11.1%</text>
<text x="451.0" y="174.94">2.4%</text>
<text x="498.3" y="174.94" text-anchor="middle">0.062</text>
<text x="42.8" y="181.78" text-anchor="end" font-style="italic" font-size="6.95" fill="#c4274e" stroke="#c4274e">BTG1</text>
<text x="139.8" y="181.78">11.1%</text>
<text x="451.0" y="181.78">3.7%</text>
<text x="498.3" y="181.78" text-anchor="middle">0.141</text>
<text x="42.8" y="188.61" text-anchor="end" font-style="italic" font-size="6.95" fill="#c4274e" stroke="#c4274e">ZFP36L1</text>
<text x="139.8" y="188.61">11.1%</text>
<text x="451.0" y="188.61">3.7%</text>
<text x="498.3" y="188.61" text-anchor="middle">0.141</text>
<text x="42.8" y="195.44" text-anchor="end" font-style="italic" font-size="6.95" fill="#c4274e" stroke="#c4274e">BCL10</text>
<text x="139.8" y="195.44">11.1%</text>
<text x="451.0" y="195.44">3.7%</text>
<text x="498.3" y="195.44" text-anchor="middle">0.141</text>
<text x="42.8" y="202.28" text-anchor="end" font-style="italic" font-size="6.95" fill="#c4274e" stroke="#c4274e">SYK</text>
<text x="139.8" y="202.28">11.1%</text>
<text x="451.0" y="202.28">3.7%</text>
<text x="498.3" y="202.28" text-anchor="middle">0.141</text>
<text x="42.8" y="209.11" text-anchor="end" font-style="italic" font-size="6.95" fill="#c4274e" stroke="#c4274e">UBE2A</text>
<text x="139.8" y="209.11">11.1%</text>
<text x="451.0" y="209.11">3.7%</text>
<text x="498.3" y="209.11" text-anchor="middle">0.141</text>
<text x="42.8" y="215.94" text-anchor="end" font-style="italic" font-size="6.95" fill="#c4274e" stroke="#c4274e">EP300</text>
<text x="139.8" y="215.94">11.1%</text>
<text x="451.0" y="215.94">3.7%</text>
<text x="498.3" y="215.94" text-anchor="middle">0.141</text>
<text x="42.8" y="229.61" text-anchor="end" font-style="italic" font-size="6.95" fill="#1a1a1a" stroke="#1a1a1a">TNFRSF14</text>
<text x="139.8" y="229.61">18.5%</text>
<text x="451.0" y="229.61">22.0%</text>
<text x="498.3" y="229.61" text-anchor="middle">0.705</text>
<text x="42.8" y="236.44" text-anchor="end" font-style="italic" font-size="6.95" fill="#1a1a1a" stroke="#1a1a1a">SOCS1</text>
<text x="139.8" y="236.44">14.8%</text>
<text x="451.0" y="236.44">8.5%</text>
<text x="498.3" y="236.44" text-anchor="middle">0.348</text>
<text x="42.8" y="243.27" text-anchor="end" font-style="italic" font-size="6.95" fill="#1a1a1a" stroke="#1a1a1a">EZH2</text>
<text x="139.8" y="243.27">14.8%</text>
<text x="451.0" y="243.27">19.5%</text>
<text x="498.3" y="243.27" text-anchor="middle">0.584</text>
<text x="42.8" y="250.11" text-anchor="end" font-style="italic" font-size="6.95" fill="#1a1a1a" stroke="#1a1a1a">POU2F2</text>
<text x="139.8" y="250.11">14.8%</text>
<text x="451.0" y="250.11">12.2%</text>
<text x="498.3" y="250.11" text-anchor="middle">0.724</text>
<text x="42.8" y="256.94" text-anchor="end" font-style="italic" font-size="6.95" fill="#1a1a1a" stroke="#1a1a1a">IRF8</text>
<text x="139.8" y="256.94">14.8%</text>
<text x="451.0" y="256.94">14.6%</text>
<text x="498.3" y="256.94" text-anchor="middle">0.982</text>
<text x="42.8" y="263.77" text-anchor="end" font-style="italic" font-size="6.95" fill="#1a1a1a" stroke="#1a1a1a">BTG2</text>
<text x="139.8" y="263.77">11.1%</text>
<text x="451.0" y="263.77">4.9%</text>
<text x="498.3" y="263.77" text-anchor="middle">0.252</text>
<text x="42.8" y="270.61" text-anchor="end" font-style="italic" font-size="6.95" fill="#1a1a1a" stroke="#1a1a1a">ARID1A</text>
<text x="139.8" y="270.61">11.1%</text>
<text x="451.0" y="270.61">6.1%</text>
<text x="498.3" y="270.61" text-anchor="middle">0.386</text>
<text x="42.8" y="277.44" text-anchor="end" font-style="italic" font-size="6.95" fill="#1a1a1a" stroke="#1a1a1a">BCL7A</text>
<text x="139.8" y="277.44">11.1%</text>
<text x="451.0" y="277.44">6.1%</text>
<text x="498.3" y="277.44" text-anchor="middle">0.386</text>
<text x="42.8" y="284.27" text-anchor="end" font-style="italic" font-size="6.95" fill="#1a1a1a" stroke="#1a1a1a">CD79B</text>
<text x="139.8" y="284.27">11.1%</text>
<text x="451.0" y="284.27">7.3%</text>
<text x="498.3" y="284.27" text-anchor="middle">0.534</text>
<text x="42.8" y="291.10" text-anchor="end" font-style="italic" font-size="6.95" fill="#1a1a1a" stroke="#1a1a1a">HIST1H1E</text>
<text x="139.8" y="291.10">11.1%</text>
<text x="451.0" y="291.10">12.2%</text>
<text x="498.3" y="291.10" text-anchor="middle">0.880</text>
<text x="42.8" y="297.94" text-anchor="end" font-style="italic" font-size="6.95" fill="#1a1a1a" stroke="#1a1a1a">STAT6</text>
<text x="139.8" y="297.94">7.4%</text>
<text x="451.0" y="297.94">15.9%</text>
<text x="498.3" y="297.94" text-anchor="middle">0.269</text>
<text x="42.8" y="304.77" text-anchor="end" font-style="italic" font-size="6.95" fill="#1a1a1a" stroke="#1a1a1a">CD70</text>
<text x="139.8" y="304.77">7.4%</text>
<text x="451.0" y="304.77">4.9%</text>
<text x="498.3" y="304.77" text-anchor="middle">0.617</text>
<text x="42.8" y="311.60" text-anchor="end" font-style="italic" font-size="6.95" fill="#1a1a1a" stroke="#1a1a1a">RRAGC</text>
<text x="139.8" y="311.60">7.4%</text>
<text x="451.0" y="311.60">8.5%</text>
<text x="498.3" y="311.60" text-anchor="middle">0.853</text>
<text x="42.8" y="318.44" text-anchor="end" font-style="italic" font-size="6.95" fill="#1a1a1a" stroke="#1a1a1a">EEF1A1</text>
<text x="139.8" y="318.44">3.7%</text>
<text x="451.0" y="318.44">9.8%</text>
<text x="498.3" y="318.44" text-anchor="middle">0.322</text>
<text x="42.8" y="325.27" text-anchor="end" font-style="italic" font-size="6.95" fill="#1a1a1a" stroke="#1a1a1a">MEF2B</text>
<text x="139.8" y="325.27">3.7%</text>
<text x="451.0" y="325.27">9.8%</text>
<text x="498.3" y="325.27" text-anchor="middle">0.322</text>
<text x="42.8" y="332.10" text-anchor="end" font-style="italic" font-size="6.95" fill="#1a1a1a" stroke="#1a1a1a">FOXO1</text>
<text x="139.8" y="332.10">3.7%</text>
<text x="451.0" y="332.10">9.8%</text>
<text x="498.3" y="332.10" text-anchor="middle">0.322</text>
<text x="42.8" y="338.94" text-anchor="end" font-style="italic" font-size="6.95" fill="#1a1a1a" stroke="#1a1a1a">BCR</text>
<text x="139.8" y="338.94">3.7%</text>
<text x="451.0" y="338.94">6.1%</text>
<text x="498.3" y="338.94" text-anchor="middle">0.636</text>
<text x="42.8" y="345.77" text-anchor="end" font-style="italic" font-size="6.95" fill="#1a1a1a" stroke="#1a1a1a">NOTCH2</text>
<text x="139.8" y="345.77">3.7%</text>
<text x="451.0" y="345.77">4.9%</text>
<text x="498.3" y="345.77" text-anchor="middle">0.800</text>
<text x="42.8" y="352.60" text-anchor="end" font-style="italic" font-size="6.95" fill="#1a1a1a" stroke="#1a1a1a">BCL6</text>
<text x="139.8" y="352.60">3.7%</text>
<text x="451.0" y="352.60">4.9%</text>
<text x="498.3" y="352.60" text-anchor="middle">0.800</text>
<text x="139.8" y="23.2" textLength="14.4" lengthAdjust="spacingAndGlyphs">Freq.</text>
<text x="451.0" y="23.2" textLength="14.4" lengthAdjust="spacingAndGlyphs">Freq.</text>
<text x="487.3" y="23.2" textLength="20.4" lengthAdjust="spacingAndGlyphs">p value</text>
</g>
<g font-size="9.6" fill="#111" stroke="#111" stroke-width="0.18" text-anchor="middle">
<text x="91.5" y="13.3">HB<tspan font-size="7.87" stroke-width="0.3">s</tspan>Ag+ (n=27)</text>
<text x="309" y="13.3">HB<tspan font-size="7.87" stroke-width="0.3">s</tspan>Ag– (n=82)</text>
</g>
<g font-size="6.6" fill="#111">
<rect x="43.9" y="364.1" width="2.8" height="5.9" fill="#c00000"/>
<text x="48" y="369.6" stroke="#111" stroke-width="0.18" textLength="24" lengthAdjust="spacingAndGlyphs">HB<tspan font-size="5.41" stroke-width="0.28">s</tspan>Ag+</text>
<rect x="77.9" y="364.1" width="2.8" height="5.9" fill="#00aeef"/>
<text x="82" y="369.6" stroke="#111" stroke-width="0.18" textLength="24" lengthAdjust="spacingAndGlyphs">HB<tspan font-size="5.41" stroke-width="0.28">s</tspan>Ag–</text>
<rect x="108.9" y="364.1" width="2.8" height="5.9" fill="#707070"/>
<text x="113.4" y="369.6" stroke="#111" stroke-width="0.18" textLength="14.6" lengthAdjust="spacingAndGlyphs">G1-2</text>
<rect x="136.9" y="364.1" width="2.8" height="5.9" fill="#ffb400"/>
<text x="141" y="369.6" stroke="#111" stroke-width="0.18" textLength="13.4" lengthAdjust="spacingAndGlyphs">G3A</text>
<rect x="164.3" y="364.1" width="2.8" height="5.9" fill="#5a0a9a"/>
<text x="169" y="369.6" stroke="#111" stroke-width="0.18" textLength="9" lengthAdjust="spacingAndGlyphs">G3</text>
<rect x="184.3" y="364.1" width="2.8" height="5.9" fill="#ff78fa"/>
<text x="188.5" y="369.6" stroke="#111" stroke-width="0.18" textLength="13" lengthAdjust="spacingAndGlyphs">G3B</text>
<rect x="211.5" y="364.1" width="2.8" height="5.9" fill="#8000ff"/>
<text x="216" y="369.6" stroke="#111" stroke-width="0.18" textLength="74" lengthAdjust="spacingAndGlyphs">G3A/B combined DLBCL</text>
<rect x="301.8" y="364.1" width="2.8" height="5.9" fill="#000"/>
<text x="306.8" y="369.6" stroke="#111" stroke-width="0.18" textLength="26" lengthAdjust="spacingAndGlyphs">Unknown</text>
<rect x="338.5" y="364.1" width="2.8" height="5.9" fill="#2a6fd0"/>
<text x="342.5" y="369.6" stroke="#111" stroke-width="0.18" textLength="53.2" lengthAdjust="spacingAndGlyphs">Nonsilent mutation</text>
</g>
<rect x="0.5" y="0.5" width="519" height="376" fill="none" stroke="#000" stroke-width="1"/>
</svg>
</body></html>
